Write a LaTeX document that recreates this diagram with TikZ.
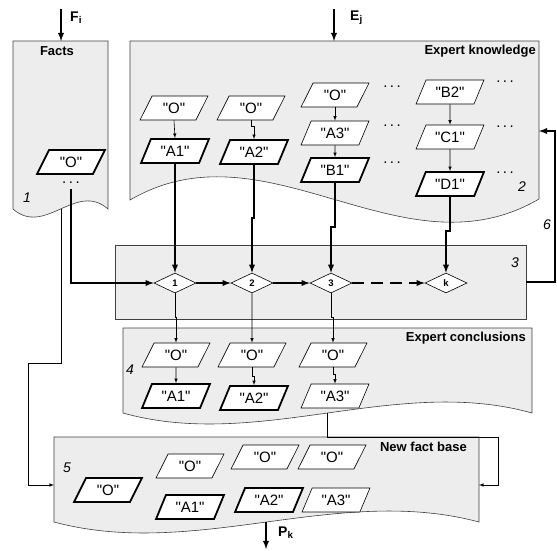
\documentclass[tikz,border=0pt]{standalone}
\usepackage{fontspec}
\setmainfont{Liberation Sans}[Ligatures=TeXOff]
\usetikzlibrary{shapes.geometric}

\begin{document}
\begin{tikzpicture}[>=latex,x=1pt,y=-1pt,
    panel/.style={draw=black!75,fill=black!7,line width=0.6pt},
    fact/.style={trapezium,trapezium left angle=60,trapezium right angle=120,trapezium stretches=true,
        draw,fill=white,minimum width=68pt,minimum height=24pt,inner sep=0pt,line width=0.6pt,
        font=\fontsize{15}{15}\selectfont},
    goal/.style={fact,line width=1.8pt},
    rule/.style={diamond,draw,fill=white,minimum width=42pt,minimum height=20pt,inner sep=0pt,aspect=2.1,
        line width=0.6pt,font=\fontsize{9.5}{9.5}\selectfont\bfseries},
    title/.style={inner sep=0pt,font=\fontsize{13}{13}\selectfont\bfseries},
    tag/.style={inner sep=0pt,font=\fontsize{14}{14}\selectfont\itshape},
    more/.style={inner sep=0pt,font=\fontsize{15}{15}\selectfont},
    io/.style={inner sep=0pt,anchor=west,font=\fontsize{14}{14}\selectfont\bfseries},
    link/.style={->,line width=0.6pt},
    main/.style={->,line width=1.8pt}]
    \useasboundingbox (0,0) rectangle (557,550);

    \draw[panel] (13,41) -- (108,41) -- (108,209) .. controls (76,181) and (45,237) .. (13,209) -- cycle;
    \draw[panel] (130,41) -- (539,41) -- (539,199) .. controls (402,279) and (267,120) .. (130,200) -- cycle;
    \draw[panel] (115,245) rectangle (526,319);
    \draw[panel] (123,328) -- (532,328) -- (532,413) .. controls (396,375) and (259,451) .. (123,413) -- cycle;
    \draw[panel] (54,437) -- (479,437) -- (479,522) .. controls (337,484) and (196,560) .. (54,522) -- cycle;

    \node[title] (tFacts) at (57,51) {Facts};
    \node[title,anchor=east] (tKnow) at (536,51) {Expert knowledge};
    \node[title,anchor=east] (tConc) at (526,338) {Expert conclusions};
    \node[title,anchor=east] (tNew) at (467,447) {New fact base};
    \foreach \t/\x/\y in {1/27/198,2/522/187,3/515/263,4/130/370,5/67/468,6/547/225}
    {
        \node[tag] (tag\t) at (\x,\y) {\t};
    }

    \node[goal] (fO) at (71,162) {"O"};
    \node[more] (fDots) at (71,183) {.\,.\,.};

    \node[fact] (kO1) at (174,108) {"O"};
    \node[goal] (kA1) at (175,151) {"A1"};
    \node[fact] (kO2) at (251,108) {"O"};
    \node[goal] (kA2) at (254,152) {"A2"};
    \node[fact] (kO3) at (335,95) {"O"};
    \node[fact] (kA3) at (335,133) {"A3"};
    \node[goal] (kB1) at (335,170) {"B1"};
    \node[fact] (kB2) at (450,92) {"B2"};
    \node[fact] (kC1) at (450,137) {"C1"};
    \node[goal] (kD1) at (450,184) {"D1"};
    \foreach \x/\y [count=\i] in {392/87,392/126,392/163,505/82,505/127,505/173}
    {
        \node[more] (kDots\i) at (\x,\y) {.\,.\,.};
    }

    \node[rule] (r1) at (175,283) {1};
    \node[rule] (r2) at (252,283) {2};
    \node[rule] (r3) at (331,283) {3};
    \node[rule] (rk) at (446,283) {k};

    \node[fact] (cO1) at (176,355) {"O"};
    \node[goal] (cA1) at (176,396) {"A1"};
    \node[fact] (cO2) at (252,355) {"O"};
    \node[goal] (cA2) at (254,398) {"A2"};
    \node[fact] (cO3) at (333,355) {"O"};
    \node[fact] (cA3) at (335,396) {"A3"};

    \node[goal] (nO0) at (108,490) {"O"};
    \node[fact] (nO1) at (190,466) {"O"};
    \node[fact] (nO2) at (265,457) {"O"};
    \node[fact] (nO3) at (332,457) {"O"};
    \node[goal] (nA1) at (190,507) {"A1"};
    \node[goal] (nA2) at (269,500) {"A2"};
    \node[fact] (nA3) at (336,500) {"A3"};

    \coordinate (fiSrc) at (61,9);
    \coordinate (fiDst) at (61,41);
    \coordinate (ejSrc) at (334,9);
    \coordinate (ejDst) at (334,41);
    \coordinate (pkSrc) at (266,522);
    \coordinate (pkDst) at (266,549);
    \coordinate (fOut) at (61,209);
    \coordinate (nLeft) at (54,485);
    \coordinate (cOut) at (327,413);
    \coordinate (nRight) at (479,485);
    \coordinate (rOut) at (526,282);
    \coordinate (kIn) at (539,131);

    \draw[main] (fiSrc) -- (fiDst);
    \node[io] (fiLbl) at (70,18) {F\textsubscript{i}};
    \draw[main] (ejSrc) -- (ejDst);
    \node[io] (ejLbl) at (350,18) {E\textsubscript{j}};
    \draw[main] (pkSrc) -- (pkDst);
    \node[io] (pkLbl) at (278,533) {P\textsubscript{k}};

    \draw[link] (kO1.south) -- (kA1.north);
    \draw[link] (kO2.south) -- ++(0,6) -| (kA2.north);
    \draw[link] (kO3.south) -- ++(0,4) -| (kA3.north);
    \draw[link] (kA3.south) -- (kB1.north);
    \draw[link] (kB2.south) -- (kC1.north);
    \draw[link] (kC1.south) -- (kD1.north);

    \draw[main] ([yshift=-5pt]fDots.south) |- (r1.west);
    \draw[main] (kA1.south) -- (r1.north);
    \draw[main] (kA2.south) -- ++(0,53) -| (r2.north);
    \draw[main] (kB1.south) -- ++(0,44) -| (r3.north);
    \draw[main] (kD1.south) -- ++(0,34) -| (rk.north);
    \draw[main] (r1) -- (r2);
    \draw[main] (r2) -- (r3);
    \draw[main,dash pattern=on 12pt off 7pt] (r3) -- (rk);
    \draw[main] (rOut) -- (555,282) |- (kIn);

    \draw[link] (r1.south) -- ++(0,24) -| (cO1.north);
    \draw[link] (r2.south) -- (cO2.north);
    \draw[link] (r3.south) -- ++(0,24) -| (cO3.north);
    \draw[link] (cO1.south) -- (cA1.north);
    \draw[link] (cO2.south) -- ++(0,9) -| (cA2.north);
    \draw[link] (cO3.south) -- ++(0,7) -| (cA3.north);

    \draw[link] (fOut) |- (28,363) |- (nLeft);
    \draw[link] (cOut) |- (498,437) |- (nRight);
\end{tikzpicture}
\end{document}
